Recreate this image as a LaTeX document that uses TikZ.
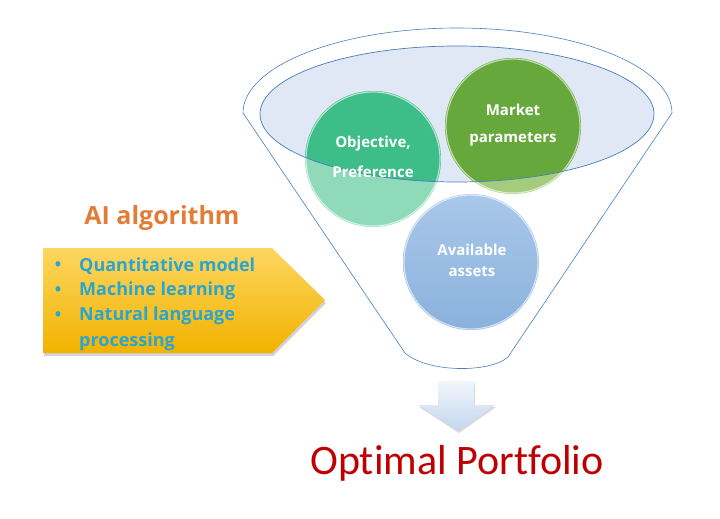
\documentclass[tikz,border=0pt]{standalone}
\usepackage{fontspec}
\setmainfont{Open Sans}
\newfontfamily\calibrifont{Carlito}[Ligatures=NoCommon]
\usetikzlibrary{shadows,calc}
\definecolor{funnelblue}{HTML}{4A7EBB}
\definecolor{ellfill}{HTML}{DFE8F4}
\definecolor{objdark}{HTML}{3DBD87}
\definecolor{objlight}{HTML}{8FDBB9}
\definecolor{mktdark}{HTML}{67A83C}
\definecolor{mktlight}{HTML}{A3CD7C}
\definecolor{availtop}{HTML}{A9C8EA}
\definecolor{availbot}{HTML}{8AB1DC}
\definecolor{aiorange}{HTML}{E37C36}
\definecolor{bulletblue}{HTML}{2AA5CF}
\definecolor{portred}{HTML}{C00000}
\definecolor{boxtop}{HTML}{FDD660}
\definecolor{boxbot}{HTML}{F2B300}
\definecolor{arrtop}{HTML}{F2F6FB}
\definecolor{arrbot}{HTML}{C3D6EE}

\tikzset{
  circtext/.style={font=\bfseries\fontsize{15}{18}\selectfont,text=white},
  itemtext/.style={font=\bfseries\fontsize{18}{20}\selectfont,text=bulletblue,anchor=west,inner sep=0pt},
  itemdot/.style={font=\bfseries\fontsize{17}{18}\selectfont,text=bulletblue,inner sep=0pt},
  rim/.style={draw=white,line width=1.2pt,draw opacity=0.6}
}

\begin{document}
\begin{tikzpicture}[x=1pt,y=-1pt]
  \useasboundingbox (0,0) rectangle (720,519);

  % ---- Funnel outline -----------------------------------------
  \draw[funnelblue,line width=0.6pt] (243,113)
    arc[start angle=180,end angle=0,x radius=214.5pt,y radius=85pt]
    -- (508,357) .. controls (490,373) and (428,373) .. (405,353) -- cycle;

  % ---- Inner ellipse (fill first, outline later) --------------
  \fill[ellfill] (457,114) ellipse (197pt and 68pt);

  % ============================================================
  %  Input circles
  % ============================================================
  % Objective, Preference
  \fill[objlight] (373,159) circle (68pt);
  \begin{scope}
    \clip (457,114) ellipse (197pt and 68pt);
    \fill[objdark] (373,159) circle (68pt);
  \end{scope}
  \draw[rim] (373,159) circle (67pt);
  % Market parameters
  \fill[mktlight] (513,126) circle (68pt);
  \begin{scope}
    \clip (457,114) ellipse (197pt and 68pt);
    \fill[mktdark] (513,126) circle (68pt);
  \end{scope}
  \draw[rim] (513,126) circle (67pt);
  % Available assets
  \shade[top color=availtop,bottom color=availbot] (471,262) circle (68pt);
  \draw[rim] (471,262) circle (67pt);

  % Ellipse outline over the circles
  \draw[funnelblue,line width=0.7pt] (457,114) ellipse (197pt and 68pt);

  % Circle labels
  \node[circtext] (objA) at (373,144) {Objective,};
  \node[circtext] (objB) at (373,172) {Preference};
  \node[circtext] (mktA) at (513,110) {Market};
  \node[circtext] (mktB) at (513,139) {parameters};
  \node[circtext] (avlA) at (472,250) {Available};
  \node[circtext] (avlB) at (472,272) {assets};

  % ============================================================
  %  LEFT SIDE: AI algorithm box
  % ============================================================
  \node[font=\bfseries\fontsize{25}{28}\selectfont,text=aiorange]
    (aititle) at (162,218) {AI algorithm};

  \shade[top color=boxtop,bottom color=boxbot,
         drop shadow={opacity=0.35,shadow xshift=1pt,shadow yshift=-3pt}]
    (43,248) -- (272,248) -- (325,300) -- (272,353) -- (43,353) -- cycle;

  \node[itemdot] (dotA) at (58,266) {•};
  \node[itemtext] (quant) at (79,266) {Quantitative model};
  \node[itemdot] (dotB) at (58,291) {•};
  \node[itemtext] (mlearn) at (79,291) {Machine learning};
  \node[itemdot] (dotC) at (58,316) {•};
  \node[itemtext] (nlp) at (79,316) {Natural language};
  \node[itemtext] (nlpB) at (79,342) {processing};

  % ============================================================
  %  BOTTOM: output arrow and result
  % ============================================================
  \shade[top color=arrtop,bottom color=arrbot,
         drop shadow={opacity=0.3,shadow xshift=1pt,shadow yshift=-2pt}]
    (438,381) -- (474,381) -- (474,405) -- (495,405) -- (458,431)
    -- (418,405) -- (438,405) -- cycle;

  \node[font=\calibrifont\fontsize{42}{48}\selectfont,text=portred]
    (result) at (457,463) {Optimal Portfolio};

\end{tikzpicture}
\end{document}
